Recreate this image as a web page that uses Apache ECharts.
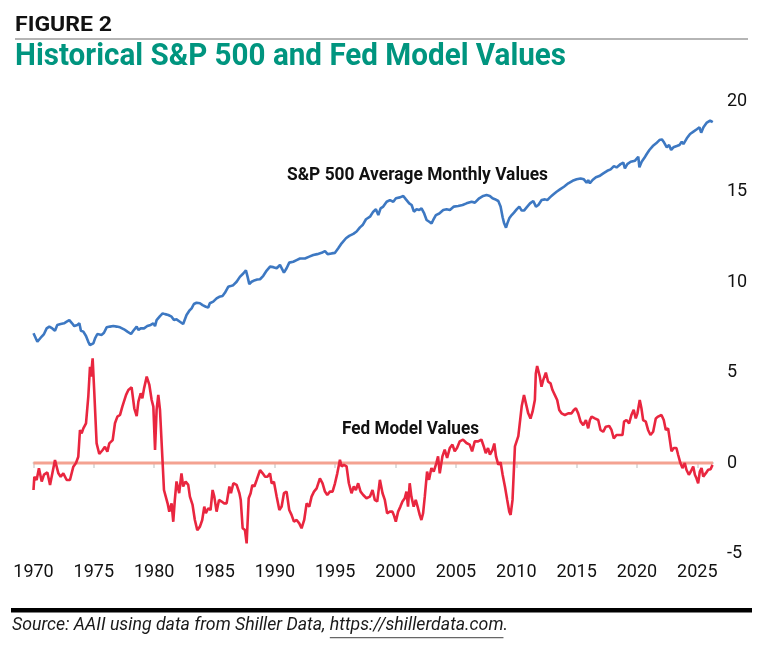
<!DOCTYPE html>
<html><head><meta charset="utf-8">
<script src="https://cdn.jsdelivr.net/npm/echarts@6/dist/echarts.min.js"></script>
<style>html,body{margin:0;padding:0;background:#fff}#c{width:767px;height:650px}</style>
</head><body><div id="c"></div>
<script>
// ---- DATA ----
const spYears = [1970.0,1970.12,1970.32,1970.48,1970.68,1970.87,1971.09,1971.31,1971.56,1971.78,1971.97,1972.25,1972.53,1972.75,1972.97,1973.16,1973.38,1973.63,1973.8,1973.93,1974.13,1974.35,1974.54,1974.68,1974.82,1974.96,1975.1,1975.29,1975.45,1975.65,1975.84,1976.06,1976.34,1976.61,1976.89,1977.17,1977.5,1977.78,1978.08,1978.27,1978.55,1978.69,1978.88,1979.16,1979.43,1979.71,1979.93,1980.07,1980.2,1980.48,1980.7,1980.9,1981.17,1981.44,1981.64,1981.85,1982.13,1982.4,1982.55,1982.68,1982.91,1983.1,1983.29,1983.51,1983.79,1984.01,1984.28,1984.48,1984.61,1984.89,1985.17,1985.39,1985.66,1985.86,1986.13,1986.33,1986.55,1986.83,1987.1,1987.38,1987.6,1987.74,1987.88,1988.07,1988.35,1988.54,
1988.77,1989.04,1989.32,1989.6,1989.87,1990.15,1990.42,1990.56,1990.75,1990.97,1991.19,1991.52,1991.8,1992.08,1992.49,1992.85,1993.18,1993.51,1993.87,1994.15,1994.37,1994.7,1994.98,1995.25,1995.53,1995.89,1996.16,1996.5,1996.77,1997.05,1997.27,1997.55,1997.88,1998.15,1998.37,1998.57,1998.76,1998.98,1999.26,1999.53,1999.81,2000.03,2000.36,2000.64,2000.86,2001.13,2001.33,2001.52,2001.74,2001.96,2002.15,2002.37,2002.57,2002.79,2002.98,2003.12,2003.34,2003.62,2003.95,2004.23,2004.5,2004.83,2005.19,2005.55,2005.88,2006.3,2006.57,2006.93,2007.26,2007.54,2007.81,2008.03,
2008.23,2008.51,2008.7,2008.87,2008.98,2009.15,2009.26,2009.42,2009.62,2009.81,2010.03,2010.25,2010.45,2010.64,2010.86,2011.14,2011.41,2011.63,2011.83,2012.1,2012.38,2012.57,2012.79,2013.01,2013.34,2013.62,2013.95,2014.31,2014.67,2015.0,2015.33,2015.6,2015.83,2015.96,2016.1,2016.32,2016.6,2016.88,2017.21,2017.54,2017.82,2018.09,2018.31,2018.64,2018.87,2019.0,2019.2,2019.48,2019.84,2020.11,2020.2,2020.39,2020.59,2020.81,2021.03,2021.31,2021.59,2021.86,2022.06,2022.25,2022.47,2022.66,2022.83,2023.02,2023.3,2023.52,2023.71,2023.85,2024.13,2024.4,2024.68,2024.96,2025.18,2025.32,2025.51,2025.79,2026.06,2026.28];
const spValues = [7.18,7.09,6.71,6.77,7.0,7.14,7.45,7.55,7.45,7.32,7.64,7.69,7.73,7.82,7.91,7.76,7.58,7.64,7.73,7.32,7.27,7.03,6.71,6.53,6.44,6.62,6.9,7.14,7.21,7.09,7.21,7.51,7.55,7.58,7.55,7.51,7.4,7.27,7.14,7.32,7.55,7.36,7.45,7.45,7.58,7.64,7.73,7.58,7.91,8.13,8.28,8.24,8.19,8.1,7.91,7.95,7.82,7.69,7.73,8.19,8.43,8.56,8.8,8.87,8.84,8.74,8.65,8.61,8.84,8.93,9.11,9.2,9.24,9.42,9.75,9.79,9.84,10.03,10.3,10.49,10.67,10.3,9.9,10.03,10.12,10.16,
10.17,10.36,10.65,10.87,10.84,10.78,10.96,10.87,10.54,10.78,11.09,11.14,11.23,11.32,11.32,11.42,11.51,11.56,11.63,11.73,11.56,11.6,11.63,11.88,12.16,12.44,12.57,12.68,12.81,13.04,13.17,13.49,13.63,13.91,14.04,13.72,14.09,14.19,14.46,14.55,14.46,14.65,14.7,14.78,14.59,14.37,14.28,13.91,14.04,14.0,14.09,13.81,13.45,13.35,13.26,13.45,13.72,13.81,14.0,14.04,14.0,14.19,14.22,14.28,14.37,14.46,14.41,14.65,14.78,14.83,14.78,14.65,
14.6,14.5,14.2,13.6,13.3,13.02,13.26,13.54,13.72,13.86,14.04,14.19,13.97,13.97,14.15,14.37,14.5,14.19,14.28,14.55,14.59,14.55,14.7,14.83,15.01,15.14,15.29,15.48,15.62,15.7,15.75,15.7,15.51,15.66,15.48,15.66,15.81,15.88,16.03,16.17,16.25,16.43,16.36,16.54,16.62,16.3,16.54,16.67,16.73,16.95,16.36,16.67,16.86,17.1,17.32,17.54,17.69,17.87,17.91,17.73,17.47,17.6,17.32,17.47,17.54,17.6,17.78,17.65,17.97,18.21,18.34,18.47,18.58,18.28,18.58,18.84,18.95,18.86];

const fedYears = [1970.0,1970.07,1970.26,1970.45,1970.68,1970.87,1971.15,1971.37,1971.5,1971.78,1972.06,1972.25,1972.47,1972.75,1973.02,1973.3,1973.52,1973.71,1973.85,1973.99,1974.13,1974.35,1974.54,1974.68,1974.76,1974.9,1975.04,1975.23,1975.45,1975.73,1975.92,1976.12,1976.28,1976.56,1976.75,1976.95,1977.17,1977.36,1977.67,1977.86,1978.13,1978.35,1978.55,1978.69,1978.88,1979.02,1979.16,1979.38,1979.6,1979.79,1979.93,1980.07,1980.2,1980.34,1980.48,1980.7,1980.81,1980.95,1981.11,1981.25,1981.44,1981.58,1981.71,1981.85,1982.07,1982.26,1982.4,1982.6,1982.82,1982.96,1983.18,1983.37,1983.57,1983.79,1983.98,1984.15,1984.28,1984.48,1984.67,1984.84,1984.98,1985.17,1985.37,1985.59,1985.78,1986.0,1986.23,1986.36,1986.56,1986.83,1987.06,1987.17,1987.33,1987.52,1987.66,1987.83,1987.99,1988.13,1988.3,1988.49,1988.77,1988.99,1989.19,1989.38,1989.6,
1989.73,1989.92,1990.15,1990.37,1990.56,1990.75,1990.97,1991.19,1991.38,1991.58,1991.8,1992.02,1992.21,1992.43,1992.63,1992.85,1993.04,1993.24,1993.46,1993.73,1993.95,1994.15,1994.34,1994.56,1994.78,1994.98,1995.17,1995.39,1995.53,1995.72,1995.94,1996.13,1996.35,1996.54,1996.71,1996.9,1997.1,1997.32,1997.59,1997.87,1998.09,1998.28,1998.48,1998.7,1998.92,1999.11,1999.3,1999.52,1999.74,1999.85,2000.02,2000.21,2000.4,2000.57,2000.76,2000.9,2001.03,2001.17,2001.31,2001.5,2001.67,2001.86,2002.0,2002.14,2002.28,2002.42,2002.61,2002.77,2002.97,2003.16,2003.38,2003.52,2003.66,2003.88,2004.07,2004.27,2004.49,2004.71,2004.9,2005.09,2005.32,2005.59,2005.87,2006.14,2006.34,2006.56,2006.84,2007.11,2007.3,2007.47,2007.66,
2007.82,2008.04,2008.18,2008.32,2008.51,2008.7,2008.87,2009.06,2009.25,2009.42,2009.53,2009.69,2009.89,2010.17,2010.45,2010.64,2010.8,2010.99,2011.18,2011.35,2011.54,2011.62,2011.73,2011.95,2012.09,2012.23,2012.45,2012.64,2012.84,2013.0,2013.2,2013.39,2013.56,2013.75,2014.03,2014.3,2014.58,2014.77,2014.94,2015.13,2015.33,2015.55,2015.77,2015.96,2016.1,2016.24,2016.51,2016.79,2016.98,2017.2,2017.42,2017.7,2017.89,2018.08,2018.3,2018.58,2018.8,2018.93,2019.13,2019.35,2019.54,2019.73,2019.9,2020.04,2020.23,2020.37,2020.51,2020.73,2020.92,2021.12,2021.34,2021.56,2021.75,2022.03,2022.22,2022.39,2022.58,2022.72,2022.86,2023.05,2023.27,2023.41,2023.6,2023.77,2023.96,2024.1,2024.3,2024.46,2024.66,2024.8,2024.93,2025.07,2025.21,2025.35,2025.49,2025.71,2025.9,2026.1,2026.26];
const fedValues = [-1.49,-0.76,-0.94,-0.29,-1.02,-0.64,-0.52,-1.21,-1.3,0.17,-0.57,-0.76,-0.57,-0.94,-0.94,-0.2,0.0,0.35,1.83,1.64,1.92,2.2,3.67,5.33,4.78,5.79,3.86,1.09,0.5,0.72,0.9,0.63,1.09,1.27,2.2,2.57,2.66,3.12,3.77,4.04,4.19,3.03,2.6,3.4,3.86,3.58,4.13,4.78,4.32,3.49,3.12,0.72,2.94,3.77,2.94,0.0,-1.49,-1.58,-2.23,-2.69,-2.23,-3.25,-2.04,-1.02,-1.67,-0.57,-1.3,-1.02,-1.21,-1.86,-2.32,-3.15,-3.71,-3.52,-3.15,-2.41,-2.78,-2.5,-2.6,-1.49,-1.86,-2.69,-2.04,-2.13,-2.23,-2.23,-1.3,-1.67,-1.12,-1.21,-1.67,-2.04,-3.61,-3.71,-4.45,-1.95,-1.67,-1.21,-1.3,-0.94,-0.39,-0.57,-0.76,-0.76,-0.57,
-1.12,-1.04,-1.86,-2.6,-2.41,-1.67,-1.58,-2.6,-2.87,-3.24,-3.15,-3.34,-3.61,-3.15,-2.23,-2.41,-1.86,-1.58,-1.4,-0.85,-1.12,-1.58,-1.77,-1.58,-1.58,-1.12,-0.57,0.18,-0.19,-0.1,-0.19,-1.12,-1.67,-1.3,-1.49,-1.12,-1.58,-1.77,-1.95,-1.86,-1.49,-2.04,-2.13,-0.93,-1.67,-2.04,-2.78,-2.69,-2.69,-2.87,-3.24,-2.69,-2.41,-2.13,-1.95,-1.58,-2.41,-1.12,-1.86,-2.41,-2.04,-2.5,-2.87,-3.15,-2.78,-1.86,-0.47,-0.93,-0.28,-0.47,0.0,0.37,-0.57,0.37,0.74,0.28,0.83,1.02,0.65,0.83,1.2,1.3,1.11,1.02,0.65,1.2,1.2,1.3,0.93,0.55,0.83,
0.46,0.74,1.08,0.37,-0.09,0.04,-0.65,-1.3,-2.04,-2.69,-2.87,-2.04,0.92,1.49,3.14,3.76,3.67,2.75,2.46,2.84,3.49,4.96,5.37,4.78,4.22,4.59,5.0,4.5,4.41,4.04,3.76,3.49,2.94,2.75,2.66,2.75,2.75,2.94,3.03,2.75,2.29,2.1,2.38,1.92,2.38,2.57,2.47,2.38,1.83,1.73,2.01,2.05,1.83,1.36,1.55,1.55,1.55,2.29,2.38,2.19,2.66,2.94,2.47,2.75,3.49,3.03,2.38,2.29,1.83,1.55,1.73,2.47,2.57,2.66,2.38,1.83,1.92,1.3,0.65,0.83,0.83,0.46,0.0,-0.28,0.0,-0.37,-0.65,-0.47,-0.19,-0.65,-0.84,-1.12,-0.47,-0.28,-0.75,-0.56,-0.37,-0.34,-0.1];

const xTickYears = [1970,1975,1980,1985,1990,1995,2000,2005,2010,2015,2020,2025];
const yTickValues = [-5,0,5,10,15,20];
const zeroLevel = 0;
const xMin = 1970, xMax = 2026.3;

const figureLabel = 'FIGURE 2';
const titleText = 'Historical S&P 500 and Fed Model Values';
const spLabel = 'S&P 500 Average Monthly Values';
const fedLabel = 'Fed Model Values';
const sourcePrefix = 'Source: AAII using data from Shiller Data, ';
const sourceUrl = 'https://shillerdata.com';
const sourceSuffix = '.';

// ---- helpers ----
const mctx = document.createElement('canvas').getContext('2d');
function textW(t, font){ mctx.font = font; return mctx.measureText(t).width; }
function fitScale(t, font, target){ return target / textW(t, font); }

const zip = (xs, ys) => xs.map((x, i) => [x, ys[i]]);

const FIG_FONT = 'bold 20px Roboto';
const TITLE_FONT = 'bold 31px Roboto';
const ANN_FONT = 'bold 19px Roboto';
const SRC_FONT = 'italic 18px Roboto';

const figS = fitScale(figureLabel, FIG_FONT, 97);
const titleS = fitScale(titleText, TITLE_FONT, 551);
const spS = fitScale(spLabel, ANN_FONT, 261);
const fedS = fitScale(fedLabel, ANN_FONT, 137);
const srcFull = sourcePrefix + sourceUrl + sourceSuffix;
const srcS = fitScale(srcFull, SRC_FONT, 496);
const urlX = 12 + textW(sourcePrefix, SRC_FONT) * srcS;
const urlW = textW(sourceUrl, SRC_FONT) * srcS;

function txt(t, x, y, font, fill, s){
  return {type:'text', x:x, y:y, scaleX:s, silent:true,
    style:{text:t, font:font, fill:fill, textAlign:'left', textVerticalAlign:'middle'}};
}

const chart = echarts.init(document.getElementById('c'), null, {renderer:'canvas'});
chart.setOption({
  animation:false,
  backgroundColor:'#ffffff',
  grid:{left:33.5, right:54, top:101.6, bottom:96.6, containLabel:false},
  xAxis:{
    type:'value', min:xMin, max:xMax, interval:5,
    axisLine:{show:true, lineStyle:{color:'#d3d3d3', width:2}},
    axisTick:{show:true, length:5, lineStyle:{color:'#d3d3d3', width:1.5}, customValues:xTickYears},
    axisLabel:{customValues:xTickYears, color:'#111', fontFamily:'Roboto', fontSize:18, margin:10,
      formatter:v => String(Math.round(v))},
    splitLine:{show:false}
  },
  yAxis:{
    type:'value', position:'right', min:yTickValues[0], max:yTickValues[yTickValues.length-1], interval:5,
    axisLine:{show:false}, axisTick:{show:false}, splitLine:{show:false},
    axisLabel:{color:'#111', fontFamily:'Roboto', fontSize:18, margin:14}
  },
  series:[
    {type:'line', name:'zero', data:[[xMin, zeroLevel],[xMax, zeroLevel]], symbol:'none', silent:true, z:1,
      lineStyle:{color:'#f4a291', width:3}},
    {type:'line', name:spLabel, data:zip(spYears, spValues), symbol:'none', z:2,
      lineStyle:{color:'#3d78c2', width:2.6}},
    {type:'line', name:fedLabel, data:zip(fedYears, fedValues), symbol:'none', z:3,
      lineStyle:{color:'#e9263f', width:2.6}}
  ],
  graphic:[
    txt(figureLabel, 15, 26, FIG_FONT, '#111', figS),
    {type:'rect', shape:{x:15, y:38, width:733, height:2}, style:{fill:'#b5b5b5'}, silent:true},
    txt(titleText, 15, 57, TITLE_FONT, '#00957f', titleS),
    txt(spLabel, 287, 175.5, ANN_FONT, '#111', spS),
    txt(fedLabel, 342, 429, ANN_FONT, '#111', fedS),
    {type:'rect', shape:{x:11, y:608, width:741, height:4.5}, style:{fill:'#000'}, silent:true},
    txt(srcFull, 12, 625, SRC_FONT, '#1a1a1a', srcS),
    {type:'rect', shape:{x:urlX, y:637, width:urlW, height:1.2}, style:{fill:'#666'}, silent:true}
  ]
});
</script>
</body></html>
